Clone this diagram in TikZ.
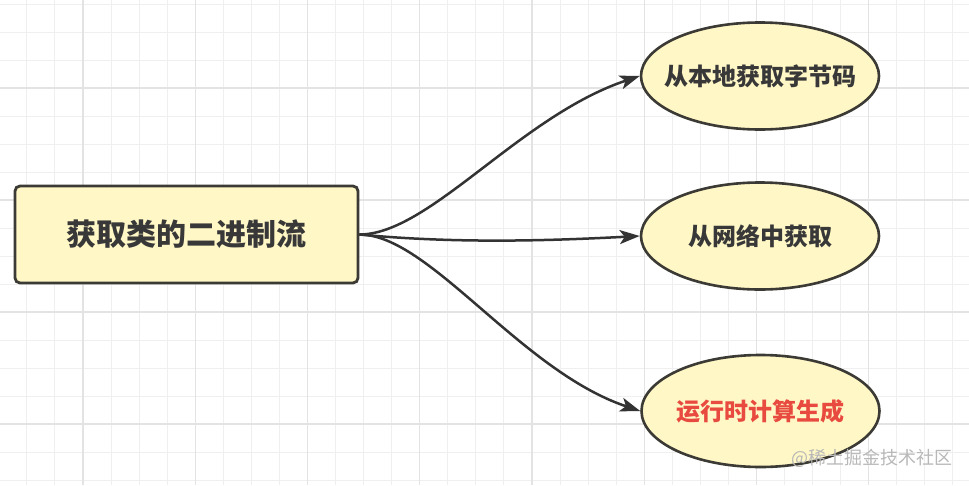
\documentclass[tikz,border=0pt]{standalone}
\usepackage{fontspec}
\newfontfamily\cjk{Noto Sans CJK SC}
\usetikzlibrary{shapes.geometric,arrows.meta}
\definecolor{gridminor}{HTML}{EFEFEF}
\definecolor{gridmajor}{HTML}{E3E3E3}
\definecolor{boxfill}{HTML}{FFF7C6}
\definecolor{boxline}{HTML}{3C3A34}
\definecolor{edgecol}{HTML}{333333}
\definecolor{txtcol}{HTML}{383838}
\definecolor{redtxt}{HTML}{E84A3F}
\definecolor{wmark}{HTML}{B8B8B8}
\tikzset{
  mainbox/.style={draw=boxline, line width=2.8pt, fill=boxfill, rounded corners=5pt,
    minimum width=343pt, minimum height=97pt, inner sep=0pt, text=txtcol,
    font=\cjk\bfseries\fontsize{30pt}{34pt}\selectfont},
  oval/.style={ellipse, draw=boxline, line width=2.6pt, fill=boxfill,
    minimum width=238pt, minimum height=107pt, inner sep=0pt},
  ovaltext/.style={inner sep=0pt, text=txtcol,
    font=\cjk\bfseries\fontsize{24pt}{28pt}\selectfont},
  flow/.style={draw=edgecol, line width=2.5pt,
    -{Stealth[length=20pt,width=14pt,inset=5pt]}},
}
\begin{document}
\begin{tikzpicture}[x=1pt,y=-1pt]
\useasboundingbox (0,0) rectangle (969,485);
\fill[white] (0,0) rectangle (969,485);
% grid
\foreach \i in {0,...,35} {
  \draw[gridminor, line width=1pt] ({-1.2+28.06*\i},0) -- ({-1.2+28.06*\i},485);
}
\foreach \j in {0,...,17} {
  \draw[gridminor, line width=1pt] (0,{4+28*\j}) -- (969,{4+28*\j});
}
\foreach \i in {0,...,8} {
  \draw[gridmajor, line width=1.3pt] ({-29.25+112.25*\i},0) -- ({-29.25+112.25*\i},485);
}
\foreach \j in {0,...,4} {
  \draw[gridmajor, line width=1.3pt] (0,{-24+112*\j}) -- (969,{-24+112*\j});
}
% nodes
\node[mainbox] (src) at (186.5,234.5) {获取类的二进制流};
\node[oval] (local) at (760,76) {};
\node[ovaltext] (localtxt) at (local.center) {从本地获取字节码};
\node[oval] (net) at (760,236) {};
\node[ovaltext] (nettxt) at (net.center) {从网络中获取};
\node[oval, minimum height=112pt] (calc) at (760.5,411) {};
\node[ovaltext, text=redtxt] (calctxt) at (calc.center) {运行时计算生成};
\node[font=\cjk\fontsize{18pt}{20pt}\selectfont, text=wmark, anchor=east, inner sep=0pt] (wm) at (953,458) {@稀土掘金技术社区};
% connectors
\draw[flow] (src.east) .. controls +(70,0) and +(-120,40) .. (local.west);
\draw[flow] (src.east) .. controls +(95,9) and +(-95,5) .. (net.west);
\draw[flow] (src.east) .. controls +(70,0) and +(-120,-40) .. (calc.west);
\end{tikzpicture}
\end{document}
